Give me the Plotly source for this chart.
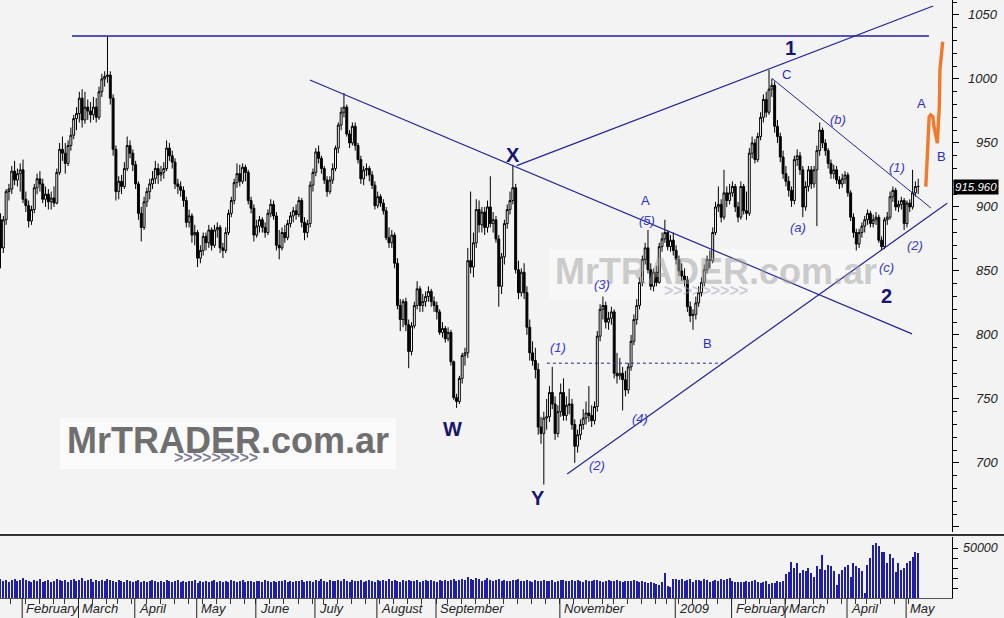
import pandas as pd
import plotly.graph_objects as go

# ---------------- DATA ----------------
holidays = ["2008-02-18", "2008-03-21", "2008-05-26", "2008-07-04", "2008-09-01",
            "2008-11-27", "2008-12-25", "2009-01-01", "2009-01-19", "2009-02-16", "2009-04-10"]
dates = [d for d in pd.bdate_range("2008-01-22", "2009-05-07")
         if d.strftime("%Y-%m-%d") not in holidays]

open_ = [
    890, 868, 890, 912, 914, 928, 921, 926, 929, 906,
    901, 889, 898, 915, 922, 918, 906, 910, 904, 907,
    903, 927, 945, 942, 934, 948, 956, 969, 973, 985,
    968, 978, 975, 972, 978, 970, 990, 1000, 1002, 1003,
    985, 945, 912, 920, 916, 930, 948, 942, 933, 918,
    895, 884, 904, 912, 918, 922, 930, 925, 927, 930,
    946, 940, 935, 918, 916, 913, 905, 888, 893, 878,
    880, 860, 866, 877, 872, 882, 870, 882, 884, 868,
    866, 880, 895, 905, 919, 926, 920, 931, 927, 905,
    899, 878, 885, 890, 884, 880, 895, 902, 893, 870,
    868, 880, 876, 887, 893, 897, 894, 905, 888, 880,
    887, 917, 927, 943, 938, 930, 921, 912, 921, 930,
    946, 964, 974, 978, 957, 950, 963, 948, 937, 922,
    929, 930, 925, 917, 901, 908, 903, 897, 876, 872,
    878, 856, 823, 812, 826, 808, 787, 807, 823, 836,
    823, 826, 830, 834, 826, 823, 818, 802, 805, 797,
    802, 779, 751, 748, 766, 784, 786, 858, 853, 872,
    898, 886, 896, 884, 900, 887, 890, 875, 838, 861,
    887, 898, 905, 915, 851, 833, 849, 833, 806, 786,
    780, 773, 728, 723, 735, 736, 755, 746, 723, 740,
    755, 737, 745, 746, 730, 713, 722, 730, 735, 739,
    737, 733, 744, 799, 820, 823, 810, 813, 818, 770,
    768, 770, 765, 757, 775, 795, 812, 823, 841, 859,
    868, 851, 838, 849, 841, 869, 875, 880, 869, 874,
    866, 859, 850, 846, 843, 822, 815, 816, 825, 833,
    841, 851, 859, 858, 880, 900, 902, 892, 911, 905,
    911, 916, 900, 892, 916, 897, 895, 942, 950, 937,
    955, 970, 984, 974, 992, 995, 963, 955, 939, 926,
    920, 913, 905, 937, 940, 929, 900, 916, 929, 918,
    929, 944, 960, 950, 944, 934, 926, 929, 921, 918,
    922, 925, 911, 892, 880, 871, 880, 885, 890, 895,
    887, 890, 892, 874, 869, 890, 892, 908, 913, 900,
    902, 905, 887, 903, 900, 911, 916]

high = [
    895, 893, 914, 918, 932, 936, 930, 934, 937, 912,
    905, 901, 918, 926, 928, 922, 916, 914, 912, 916,
    930, 950, 955, 950, 952, 962, 972, 978, 990, 992,
    990, 984, 982, 986, 985, 994, 1004, 1006, 1033, 1006,
    988, 948, 924, 925, 935, 955, 952, 945, 936, 920,
    900, 908, 915, 922, 928, 936, 934, 932, 935, 952,
    950, 944, 938, 922, 920, 916, 908, 898, 895, 886,
    882, 870, 880, 880, 886, 884, 886, 888, 886, 872,
    884, 898, 908, 922, 934, 933, 934, 933, 929, 908,
    902, 890, 893, 892, 888, 898, 906, 905, 896, 882,
    884, 886, 890, 896, 900, 902, 908, 907, 892, 890,
    920, 930, 946, 948, 940, 932, 924, 924, 934, 948,
    966, 978, 989, 980, 960, 966, 966, 950, 940, 932,
    934, 932, 928, 920, 912, 910, 906, 900, 884, 882,
    880, 860, 828, 828, 829, 812, 810, 826, 842, 838,
    832, 834, 838, 836, 830, 826, 820, 810, 807, 806,
    804, 780, 754, 768, 786, 790, 868, 912, 880, 906,
    905, 900, 900, 905, 924, 896, 893, 878, 864, 890,
    902, 912, 933, 918, 858, 852, 856, 838, 812, 795,
    790, 778, 736, 740, 750, 760, 775, 752, 745, 762,
    766, 752, 758, 750, 734, 726, 734, 742, 748, 760,
    745, 748, 803, 824, 830, 826, 818, 822, 820, 786,
    782, 775, 772, 778, 800, 816, 828, 845, 862, 872,
    882, 856, 852, 854, 872, 880, 890, 882, 878, 880,
    870, 862, 856, 852, 846, 826, 820, 830, 838, 845,
    855, 862, 866, 884, 904, 916, 906, 929, 916, 918,
    920, 918, 904, 920, 918, 912, 946, 955, 953, 958,
    974, 988, 990, 1007, 1000, 998, 968, 958, 944, 932,
    924, 916, 940, 945, 943, 932, 920, 932, 932, 932,
    948, 966, 962, 953, 946, 937, 933, 932, 924, 926,
    928, 927, 913, 895, 883, 883, 888, 893, 898, 897,
    894, 896, 894, 877, 892, 896, 912, 916, 915, 905,
    908, 907, 905, 906, 929, 920, 922]

low = [
    852, 864, 886, 905, 910, 917, 916, 912, 903, 896,
    884, 886, 895, 910, 912, 903, 900, 898, 898, 900,
    902, 925, 936, 926, 932, 944, 953, 960, 966, 962,
    965, 968, 966, 968, 966, 968, 986, 994, 997, 980,
    940, 905, 906, 910, 914, 928, 938, 928, 914, 890,
    873, 882, 900, 906, 914, 918, 918, 920, 922, 928,
    936, 930, 914, 910, 908, 900, 884, 884, 872, 870,
    853, 856, 862, 866, 868, 866, 868, 876, 864, 860,
    864, 878, 892, 902, 915, 916, 918, 920, 902, 895,
    873, 876, 880, 880, 876, 878, 892, 890, 866, 859,
    866, 872, 874, 884, 888, 890, 892, 884, 874, 876,
    884, 912, 924, 934, 926, 918, 908, 910, 918, 928,
    942, 960, 970, 955, 946, 948, 944, 934, 918, 917,
    924, 920, 914, 898, 899, 900, 894, 874, 868, 868,
    852, 820, 803, 806, 803, 774, 784, 805, 820, 818,
    818, 822, 826, 822, 818, 812, 800, 798, 794, 795,
    776, 749, 743, 746, 762, 776, 782, 848, 845, 868,
    880, 880, 878, 880, 884, 880, 872, 822, 832, 855,
    883, 894, 902, 848, 828, 830, 828, 800, 780, 776,
    766, 722, 715, 683, 726, 732, 742, 718, 720, 736,
    733, 733, 738, 726, 700, 708, 718, 726, 730, 732,
    728, 730, 740, 795, 812, 805, 804, 808, 766, 762,
    765, 741, 752, 754, 772, 792, 808, 820, 838, 855,
    848, 835, 834, 838, 840, 865, 872, 866, 865, 862,
    855, 846, 842, 838, 818, 810, 804, 812, 822, 830,
    838, 848, 852, 856, 878, 896, 888, 890, 900, 902,
    908, 896, 888, 890, 894, 890, 893, 938, 934, 935,
    952, 966, 970, 972, 986, 958, 950, 935, 922, 916,
    908, 900, 902, 932, 925, 892, 897, 912, 914, 915,
    885, 940, 946, 940, 930, 922, 922, 918, 914, 915,
    918, 908, 889, 876, 866, 868, 876, 880, 886, 884,
    884, 886, 872, 866, 867, 886, 890, 904, 897, 896,
    898, 882, 884, 896, 898, 908, 910]

close = [
    868, 890, 912, 914, 928, 921, 926, 929, 906, 901,
    889, 898, 915, 922, 918, 906, 910, 904, 907, 903,
    927, 945, 942, 934, 948, 956, 969, 973, 985, 968,
    978, 975, 972, 978, 970, 990, 1000, 1002, 1003, 985,
    945, 912, 920, 916, 930, 948, 942, 933, 918, 895,
    884, 904, 912, 918, 922, 930, 925, 927, 930, 946,
    940, 935, 918, 916, 913, 905, 888, 893, 878, 880,
    860, 866, 877, 872, 882, 870, 882, 884, 868, 866,
    880, 895, 905, 919, 926, 920, 931, 927, 905, 899,
    878, 885, 890, 884, 880, 895, 902, 893, 870, 868,
    880, 876, 887, 893, 897, 894, 905, 888, 880, 887,
    917, 927, 943, 938, 930, 921, 912, 921, 930, 946,
    964, 974, 978, 957, 950, 963, 948, 937, 922, 929,
    930, 925, 917, 901, 908, 903, 897, 876, 872, 878,
    856, 823, 812, 826, 808, 787, 807, 823, 836, 823,
    826, 830, 834, 826, 823, 818, 802, 805, 797, 802,
    779, 751, 748, 766, 784, 786, 858, 853, 872, 898,
    886, 896, 884, 900, 887, 890, 875, 838, 861, 887,
    898, 905, 915, 851, 833, 849, 833, 806, 786, 780,
    773, 728, 723, 735, 736, 755, 746, 723, 740, 755,
    737, 745, 746, 730, 713, 722, 730, 735, 739, 737,
    733, 744, 799, 820, 823, 810, 813, 818, 770, 768,
    770, 765, 757, 775, 795, 812, 823, 841, 859, 868,
    851, 838, 849, 841, 869, 875, 880, 869, 874, 866,
    859, 850, 846, 843, 822, 815, 816, 825, 833, 841,
    851, 859, 858, 880, 900, 902, 892, 911, 905, 911,
    916, 900, 892, 916, 897, 895, 942, 950, 937, 955,
    970, 984, 974, 992, 995, 963, 955, 939, 926, 920,
    913, 905, 937, 940, 929, 900, 916, 929, 918, 929,
    944, 960, 950, 944, 934, 926, 929, 921, 918, 922,
    925, 911, 892, 880, 871, 880, 885, 890, 895, 887,
    890, 892, 874, 869, 890, 892, 908, 913, 900, 902,
    905, 887, 903, 900, 911, 916, 915.96]

volume = [
    19000, 17500, 18500, 16500, 18000, 19500, 17000, 18500, 20500, 18000,
    17000, 16500, 18000, 17500, 19000, 16000, 17500, 18000, 16500, 17000,
    19500, 18500, 17000, 18000, 16500, 18500, 19000, 17500, 18000, 20000,
    17000, 18500, 19500, 16500, 18000, 17000, 18500, 17500, 19000, 18000,
    17500, 16500, 18000, 17000, 16000, 18500, 17500, 16500, 17000, 18000,
    16500, 17500, 16000, 17000, 18500, 17500, 16000, 17000, 16500, 18000,
    17000, 16500, 17500, 18000, 16000, 17000, 16500, 17500, 17000, 18000,
    15000, 17000, 16500, 17500, 16000, 17000, 18000, 16500, 17000, 16000,
    17000, 16500, 18000, 17500, 16000, 17000, 18500, 16500, 17000, 17500,
    16000, 17000, 17500, 16500, 18000, 17000, 16500, 17500, 16000, 17000,
    17500, 18500, 16500, 17000, 16000, 17500, 17000, 18000, 16500, 17500,
    17000, 16000, 18000, 17500, 19000, 17000, 16500, 18000, 17000, 17500,
    18000, 17000, 19500, 17500, 16500, 18000, 17000, 17500, 18500, 16500,
    17000, 18000, 17500, 16500, 18000, 17000, 18500, 17500, 19000, 17000,
    18000, 17500, 16500, 18500, 17000, 18000, 17500, 17000, 18000, 16500,
    17500, 18000, 17000, 18500, 17500, 16500, 18000, 17000, 18500, 17500,
    18000, 19000, 17500, 18500, 19000, 18000, 21000, 19500, 18000, 20500,
    19000, 17500, 18500, 20000, 18000, 17500, 18500, 19000, 17000, 18500,
    17500, 17000, 18500, 18000, 19500, 17500, 17000, 18000, 17500, 16500,
    18000, 17000, 17500, 18500, 17000, 17500, 18000, 16500, 17000, 18500,
    18000, 17500, 17000, 18000, 17500, 18500, 17000, 16500, 18000, 17500,
    17000, 18000, 18500, 17500, 16000, 17500, 18000, 17000, 17500, 18000,
    17000, 16500, 17500, 17000, 17500, 18000, 17500, 16500, 17000, 16000,
    15500, 16500, 15000, 14000, 13500, 16000, 25000, 12000, 11000, 19000,
    19000, 18500, 19000, 17500, 18500, 19000, 16000, 18000, 18500, 17500,
    19000, 18500, 16500, 17000, 18000, 17500, 19000, 18500, 19000, 20000,
    17000, 16500, 16000, 16500, 16000, 17000, 16500, 17500, 18500, 16000,
    15500, 16000, 17000, 14500, 15000, 15500, 17000, 16500, 17500, 24000,
    26000, 36000, 30000, 35000, 25000, 28000, 27000, 30000, 25000, 21000,
    32000, 29000, 43000, 28000, 33000, 32000, 27000, 13000, 24000, 28000,
    31000, 33000, 21000, 35000, 32000, 30000, 27000, 5000, 33000, 40000,
    53000, 55000, 52000, 46000, 46000, 35000, 44000, 40000, 26000, 35000,
    28000, 30000, 35000, 37000, 41000, 46000, 45000]

last_close_label = "915.960"
price_ticks = [700, 750, 800, 850, 900, 950, 1000, 1050]
volume_ticks = [10000, 20000, 30000, 40000, 50000]
volume_tick_labels = ["", "", "", "", "50000"]

month_labels = [("2008-02", "February"), ("2008-03", "March"), ("2008-04", "April"),
                ("2008-05", "May"), ("2008-06", "June"), ("2008-07", "July"),
                ("2008-08", "August"), ("2008-09", "September"), ("2008-11", "November"),
                ("2009-01", "2009"), ("2009-02", "February"), ("2009-03", "March"),
                ("2009-04", "April"), ("2009-05", "May")]

# analyst lines (bar index, price)
resistance = [(25.4, 1033.6), (329.8, 1033.6)]
down_trend = [(109.9, 999.2), (323.8, 800.8)]
upper_channel = [(183.4, 932.3), (331.3, 1057.0)]
lower_channel = [(201.3, 691.4), (336.3, 902.9)]
wedge_top = [(274.0, 1000.5), (330.5, 899.2)]
dashed_level = [(194.1, 777.9), (256.7, 777.9)]
projection = [(328.7, 915.9), (329.6, 949.8), (329.9, 970.6), (330.4, 971.9), (331.2, 970.6),
              (331.6, 962.7), (332.3, 954.9), (332.8, 949.8), (333.1, 962.7), (333.5, 978.4),
              (333.7, 1007.0), (334.4, 1025.2), (334.7, 1029.1)]

wave_labels = [
    ("1", 280.5, 1024.2, "major"), ("2", 314.8, 830.1, "major"), ("X", 182.0, 940.6, "major"),
    ("W", 160.6, 726.3, "major"), ("Y", 191.0, 672.4, "major"),
    ("C", 279.3, 1003.1, "letter"), ("A", 229.2, 904.7, "letter"), ("B", 251.1, 793.5, "letter"),
    ("A", 327.0, 980.5, "letter"), ("B", 334.4, 939.3, "letter"),
    ("(5)", 229.6, 889.3, "minor"), ("(3)", 213.6, 839.1, "minor"), ("(1)", 197.9, 790.1, "minor"),
    ("(4)", 227.2, 734.9, "minor"), ("(2)", 211.8, 697.7, "minor"), ("(a)", 283.3, 883.8, "minor"),
    ("(b)", 297.5, 968.0, "minor"), ("(c)", 314.6, 852.3, "minor"), ("(1)", 318.4, 930.5, "minor"),
    ("(2)", 324.9, 869.8, "minor"),
]

# ---------------- FIGURE ----------------
n = len(dates)
idx = list(range(n))
FONT = "Liberation Sans, Arial, sans-serif"
NAVY = "#22229a"
PLOT_H = 598.0
PLOT_W = 952.0

fig = go.Figure()

fig.add_trace(go.Candlestick(
    x=idx, open=open_, high=high, low=low, close=close,
    increasing=dict(line=dict(color="#000000", width=1), fillcolor="#ffffff"),
    decreasing=dict(line=dict(color="#000000", width=1), fillcolor="#000000"),
    whiskerwidth=0, showlegend=False, xaxis="x", yaxis="y"))

fig.add_trace(go.Bar(x=idx, y=volume, width=0.4, marker=dict(color="#1e1ea8", line=dict(width=0)),
                     xaxis="x", yaxis="y2", showlegend=False))


def add_line(pts, color=NAVY, width=1.2, dash="solid"):
    fig.add_trace(go.Scatter(x=[p[0] for p in pts], y=[p[1] for p in pts], mode="lines",
                             line=dict(color=color, width=width, dash=dash),
                             xaxis="x", yaxis="y", showlegend=False, hoverinfo="skip"))


add_line(resistance, width=1.4)
add_line(down_trend)
add_line(upper_channel)
add_line(lower_channel)
add_line(wedge_top, width=1.0)
add_line(dashed_level, width=1.0, dash="3px,3px")
add_line(projection, color="#f07a2a", width=3.4)

annotations = []
shapes = []


def ann(**kw):
    kw.setdefault("showarrow", False)
    kw.setdefault("xanchor", "center")
    kw.setdefault("yanchor", "middle")
    annotations.append(kw)


# watermark boxes
shapes.append(dict(type="rect", xref="paper", yref="paper", x0=60 / PLOT_W, x1=396 / PLOT_W,
                   y0=(PLOT_H - 469) / PLOT_H, y1=(PLOT_H - 418) / PLOT_H,
                   fillcolor="#fafafa", line=dict(width=0), layer="below"))
shapes.append(dict(type="rect", xref="paper", yref="paper", x0=549 / PLOT_W, x1=885 / PLOT_W,
                   y0=(PLOT_H - 300) / PLOT_H, y1=(PLOT_H - 249) / PLOT_H,
                   fillcolor="#f7f7f7", line=dict(width=0), layer="below"))
ann(text="<b>MrTRADER.com.ar</b>", xref="paper", yref="paper",
    x=228 / PLOT_W, y=(PLOT_H - 440) / PLOT_H,
    font=dict(family=FONT, size=36, color="#6f6f6f"))
ann(text="<b>&gt;&gt;&gt;&gt;&gt;&gt;&gt;&gt;&gt;</b>", xref="paper", yref="paper",
    x=216 / PLOT_W, y=(PLOT_H - 458) / PLOT_H,
    font=dict(family=FONT, size=16, color="#7c7c94"))
ann(text="<b>MrTRADER.com.ar</b>", xref="paper", yref="paper",
    x=716 / PLOT_W, y=(PLOT_H - 271) / PLOT_H, opacity=0.5,
    font=dict(family=FONT, size=36, color="#a0a0a0"))
ann(text="<b>&gt;&gt;&gt;&gt;&gt;&gt;&gt;&gt;&gt;</b>", xref="paper", yref="paper",
    x=706 / PLOT_W, y=(PLOT_H - 290) / PLOT_H, opacity=0.5,
    font=dict(family=FONT, size=16, color="#a0a0b8"))

# wave labels
styles = {
    "major": dict(family=FONT, size=20, color="#16166e"),
    "letter": dict(family=FONT, size=13, color="#2a2ac4"),
    "minor": dict(family=FONT, size=13, color="#3a3ac4"),
}
for txt, xi, yv, kind in wave_labels:
    t = "<b>%s</b>" % txt if kind == "major" else ("<i>%s</i>" % txt if kind == "minor" else txt)
    ann(text=t, x=xi, y=yv, xref="x", yref="y", font=styles[kind])

# right axis labels (right aligned)
for v in price_ticks:
    ann(text="<i>%d</i>" % v, x=1000 / PLOT_W, y=v, xref="paper", yref="y", xanchor="right",
        font=dict(family=FONT, size=13, color="#222222"))
for v, t in zip(volume_ticks, volume_tick_labels):
    if t:
        ann(text="<i>%s</i>" % t, x=1000 / PLOT_W, y=v, xref="paper", yref="y2", xanchor="right",
            font=dict(family=FONT, size=12.5, color="#222222"))
ann(text="<i>%s</i>" % last_close_label, x=999 / PLOT_W, y=close[-1],
    xref="paper", yref="y", xanchor="right", bgcolor="#000000", borderpad=1,
    font=dict(family=FONT, size=11.5, color="#ffffff"))

# month ticks / labels
month_keys = [d.strftime("%Y-%m") for d in dates]
for key, lab in month_labels:
    first = month_keys.index(key)
    xpos = first - 0.3
    shapes.append(dict(type="line", xref="x", yref="paper", x0=xpos, x1=xpos,
                       y0=0, y1=-20 / PLOT_H, line=dict(color="#222222", width=1)))
    ann(text="<i>%s</i>" % lab, x=xpos, y=-10.5 / PLOT_H, xref="x", yref="paper",
        xanchor="left", xshift=2, font=dict(family=FONT, size=13, color="#222222"))

week_ticks = [i - 0.3 for i in range(n) if i == 0 or dates[i].weekday() < dates[i - 1].weekday()]

# panel separator
shapes.append(dict(type="line", xref="paper", yref="paper", x0=0, x1=1004 / PLOT_W,
                   y0=(PLOT_H - 532.5) / PLOT_H, y1=(PLOT_H - 532.5) / PLOT_H,
                   line=dict(color="#ffffff", width=1)))
shapes.append(dict(type="line", xref="paper", yref="paper", x0=0, x1=1004 / PLOT_W,
                   y0=(PLOT_H - 535) / PLOT_H, y1=(PLOT_H - 535) / PLOT_H,
                   line=dict(color="#333333", width=2)))

fig.update_layout(
    width=1004, height=618,
    margin=dict(l=0, r=52, t=0, b=20, pad=0),
    paper_bgcolor="#f3f3f3", plot_bgcolor="#f3f3f3",
    boxgap=0.02, bargap=0,
    showlegend=False,
    xaxis=dict(range=[-0.18, 338.0], anchor="y2", rangeslider=dict(visible=False),
               showgrid=False, zeroline=False, showline=True, linecolor="#555555", linewidth=1,
               ticks="outside", tickvals=week_ticks, ticklen=5, tickcolor="#333333",
               showticklabels=False),
    yaxis=dict(domain=[(PLOT_H - 532) / PLOT_H, 1], range=[646, 1061.7], side="right", anchor="x",
               showgrid=False, zeroline=False, showline=True, linecolor="#000000", linewidth=1,
               ticks="outside", tickvals=[650] + price_ticks, ticklen=6, tickcolor="#000000",
               showticklabels=False,
               minor=dict(dtick=10, tick0=0, ticks="outside", ticklen=4, tickcolor="#000000")),
    yaxis2=dict(domain=[0, (PLOT_H - 537) / PLOT_H], range=[0, 61000], side="right", anchor="x",
                showgrid=False, zeroline=False, showline=True, linecolor="#000000", linewidth=1,
                ticks="outside", tickvals=volume_ticks, ticklen=5, tickcolor="#000000",
                showticklabels=False),
    annotations=annotations,
    shapes=shapes,
)

fig.write_html("out.html", config={"displayModeBar": False},
               post_script="document.body.style.margin='0px';document.body.style.overflow='hidden';")
